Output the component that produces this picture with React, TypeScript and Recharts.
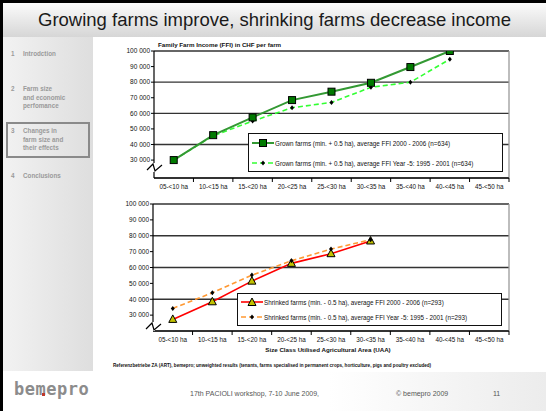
import React from "react";
import {
  LineChart,
  Line,
  XAxis,
  YAxis,
  CartesianGrid,
  Legend,
} from "recharts";

const sizeClasses = [
  "05-<10 ha",
  "10-<15 ha",
  "15-<20 ha",
  "20-<25 ha",
  "25-<30 ha",
  "30-<35 ha",
  "35-<40 ha",
  "40-<45 ha",
  "45-<50 ha",
];

// Family Farm Income (CHF per farm)
const grownFfi = [30000, 46000, 57400, 68500, 73900, 79600, 89700, 100000, null];
const grownFfiYear5 = [30000, 45600, 55000, 63600, 67000, 76700, 80000, 94700, null];
const shrinkedFfi = [27300, 38400, 51400, 62600, 68700, 76700, null, null, null];
const shrinkedFfiYear5 = [34200, 44100, 55200, 64200, 71600, 77500, null, null, null];

const yTicks = [30000, 40000, 50000, 60000, 70000, 80000, 90000, 100000];

const sidebarItems = [
  { num: "1", lines: ["Introdction"], top: 50 },
  { num: "2", lines: ["Farm size", "and economic", "perfomance"], top: 85 },
  { num: "3", lines: ["Changes in", "farm size and", "their effects"], top: 127 },
  { num: "4", lines: ["Conclusions"], top: 172 },
];

const topData = sizeClasses.map((c, i) => ({
  size: c,
  grown: grownFfi[i],
  grown5: grownFfiYear5[i],
}));

const bottomData = sizeClasses.map((c, i) => ({
  size: c,
  shrinked: shrinkedFfi[i],
  shrinked5: shrinkedFfiYear5[i],
}));

const FONT = "'Liberation Sans', Arial, sans-serif";
const CHART_W = 420;
const CHART_H = 160;

const fmtThousand = (v: number) => `${Math.round(v / 1000)} 000`;

function SquareDot(props: any) {
  const { cx, cy } = props;
  if (cx == null || cy == null || props.value == null) return null;
  return <rect x={cx - 3.5} y={cy - 3.5} width={7} height={7} fill="#007a00" stroke="#000" strokeWidth={1} />;
}

function SmallDot(props: any) {
  const { cx, cy } = props;
  if (cx == null || cy == null || props.value == null) return null;
  return <path d={`M${cx} ${cy - 2.5} L${cx + 2} ${cy} L${cx} ${cy + 2.5} L${cx - 2} ${cy} Z`} fill="#000" />;
}

function TriangleDot(props: any) {
  const { cx, cy } = props;
  if (cx == null || cy == null || props.value == null) return null;
  return (
    <path
      d={`M${cx} ${cy - 4.5} L${cx + 4} ${cy + 3} L${cx - 4} ${cy + 3} Z`}
      fill="#c2c200"
      stroke="#000"
      strokeWidth={1}
    />
  );
}

function SizeTick(props: any) {
  const { x, y, payload, band } = props;
  return (
    <g>
      <line x1={x + band / 2} y1={y} x2={x + band / 2} y2={y + 4} stroke="#000" strokeWidth={1} />
      <text x={x} y={y + 11} textAnchor="middle" fontSize={6.3} fill="#111" fontFamily={FONT}>
        {payload.value}
      </text>
    </g>
  );
}

function LegendBox({ rows, width, height, rowTops, sampleW }: any) {
  return (
    <div
      style={{
        width,
        height,
        boxSizing: "border-box",
        border: "1.5px solid #111",
        background: "#fff",
        position: "relative",
        fontFamily: FONT,
      }}
    >
      {rows.map((r: any, i: number) => (
        <div
          key={i}
          style={{
            position: "absolute",
            left: 3,
            top: rowTops[i] - 4,
            height: 8,
            display: "flex",
            alignItems: "center",
            whiteSpace: "nowrap",
          }}
        >
          <svg width={sampleW} height={8} style={{ display: "block" }}>
            <line
              x1={0}
              y1={4}
              x2={sampleW}
              y2={4}
              stroke={r.color}
              strokeWidth={r.width}
              strokeDasharray={r.dash}
            />
            {r.marker === "square" && <SquareDot cx={sampleW / 2} cy={4} value={1} />}
            {r.marker === "dot" && <SmallDot cx={sampleW / 2} cy={4} value={1} />}
            {r.marker === "triangle" && <TriangleDot cx={sampleW / 2} cy={4.5} value={1} />}
          </svg>
          <span style={{ fontSize: 6.3, color: "#111", marginLeft: 1 }}>{r.label}</span>
        </div>
      ))}
    </div>
  );
}

function AxisBreak({ left, top }: { left: number; top: number }) {
  return (
    <svg width={18} height={14} style={{ position: "absolute", left, top }}>
      <rect x={6} y={2} width={4} height={9} fill="#fff" />
      <polyline points="1,9 7,3 9,10 16,4" fill="none" stroke="#000" strokeWidth={1.2} />
    </svg>
  );
}

export default function App() {
  const topBand = (CHART_W - 54 - 11) / sizeClasses.length;
  const bottomBand = (CHART_W - 53 - 11) / sizeClasses.length;

  return (
    <div
      style={{
        position: "absolute",
        left: 0,
        top: 0,
        width: 546,
        height: 411,
        background: "#fff",
        overflow: "hidden",
        fontFamily: FONT,
      }}
    >
      {/* frame */}
      <div style={{ position: "absolute", left: 0, top: 0, width: 3, height: 411, background: "#000" }} />
      <div style={{ position: "absolute", left: 0, top: 0, width: 546, height: 3, background: "#000" }} />

      {/* title bar */}
      <div
        style={{
          position: "absolute",
          left: 3,
          top: 3,
          width: 543,
          height: 34,
          background: "linear-gradient(#fbfbfb, #d6d6d6)",
          textAlign: "center",
          fontSize: 18.5,
          lineHeight: "33px",
          color: "#1a1a1a",
        }}
      >
        Growing farms improve, shrinking farms decrease income
      </div>

      {/* sidebar */}
      <div
        style={{
          position: "absolute",
          left: 3,
          top: 37,
          width: 90,
          height: 334,
          background: "linear-gradient(to right, #f2f2f2, #dedede)",
        }}
      />
      <div
        style={{
          position: "absolute",
          left: 6,
          top: 122,
          width: 84,
          height: 36,
          boxSizing: "border-box",
          border: "2px solid #8a8a8a",
        }}
      />
      {sidebarItems.map((it) => (
        <div key={it.num} style={{ position: "absolute", left: 11, top: it.top, fontSize: 6.3, fontWeight: 700, color: "#9a9a9a", lineHeight: "8.5px" }}>
          <span style={{ position: "absolute", left: 0, top: 0 }}>{it.num}</span>
          <div style={{ marginLeft: 12, whiteSpace: "nowrap" }}>
            {it.lines.map((l) => (
              <div key={l}>{l}</div>
            ))}
          </div>
        </div>
      ))}

      {/* top chart */}
      <div style={{ position: "absolute", left: 158, top: 41, fontSize: 6.2, fontWeight: 700, color: "#111", whiteSpace: "nowrap" }}>
        Family Farm Income (FFI) in CHF per farm
      </div>
      <div style={{ position: "absolute", left: 100, top: 40 }}>
        <LineChart width={CHART_W} height={CHART_H} data={topData} margin={{ top: 11, right: 11, bottom: 0, left: 0 }}>
          <CartesianGrid vertical={false} stroke="#333" strokeWidth={1.3} />
          <CartesianGrid horizontal={false} verticalPoints={[409]} stroke="#9a9a9a" strokeWidth={1.3} />
          <XAxis
            dataKey="size"
            height={22}
            padding={{ left: topBand / 2, right: topBand / 2 }}
            tickLine={false}
            tickSize={0}
            tickMargin={0}
            axisLine={{ stroke: "#000", strokeWidth: 1.2 }}
            interval={0}
            tick={<SizeTick band={topBand} />}
          />
          <YAxis
            width={54}
            domain={[18500, 100000]}
            ticks={yTicks}
            tickFormatter={fmtThousand}
            tickSize={3}
            tickMargin={1}
            tickLine={{ stroke: "#000" }}
            axisLine={{ stroke: "#000", strokeWidth: 1.2 }}
            tick={{ fontSize: 6.5, fill: "#111", fontFamily: FONT }}
            allowDataOverflow
          />
          <Legend
            verticalAlign="middle"
            align="center"
            wrapperStyle={{ position: "absolute", left: 148, top: 93, width: 255, height: 39 }}
            content={() => (
              <LegendBox
                width={255}
                height={39}
                rowTops={[9, 29]}
                sampleW={22}
                rows={[
                  { color: "#339933", width: 2, marker: "square", label: "Grown farms (min. + 0.5 ha),  average FFI 2000 - 2006 (n=634)" },
                  { color: "#33ff33", width: 1.6, dash: "5 3", marker: "dot", label: "Grown farms (min. + 0.5 ha),  average FFI Year -5: 1995 - 2001 (n=634)" },
                ]}
              />
            )}
          />
          <Line dataKey="grown5" stroke="#33ff33" strokeWidth={1.6} strokeDasharray="5 3" dot={<SmallDot />} isAnimationActive={false} />
          <Line dataKey="grown" stroke="#339933" strokeWidth={2} dot={<SquareDot />} isAnimationActive={false} />
        </LineChart>
      </div>
      <AxisBreak left={146} top={161} />

      {/* bottom chart */}
      <div style={{ position: "absolute", left: 100, top: 195 }}>
        <LineChart width={CHART_W} height={CHART_H} data={bottomData} margin={{ top: 9, right: 11, bottom: 0, left: 0 }}>
          <CartesianGrid vertical={false} stroke="#333" strokeWidth={1.3} />
          <CartesianGrid horizontal={false} verticalPoints={[409]} stroke="#9a9a9a" strokeWidth={1.3} />
          <XAxis
            dataKey="size"
            height={24}
            padding={{ left: bottomBand / 2, right: bottomBand / 2 }}
            tickLine={false}
            tickSize={0}
            tickMargin={0}
            axisLine={{ stroke: "#000", strokeWidth: 1.2 }}
            interval={0}
            tick={<SizeTick band={bottomBand} />}
          />
          <YAxis
            width={53}
            domain={[20000, 100000]}
            ticks={yTicks}
            tickFormatter={fmtThousand}
            tickSize={3}
            tickMargin={1}
            tickLine={{ stroke: "#000" }}
            axisLine={{ stroke: "#000", strokeWidth: 1.2 }}
            tick={{ fontSize: 6.5, fill: "#111", fontFamily: FONT }}
            allowDataOverflow
          />
          <Legend
            verticalAlign="middle"
            align="center"
            wrapperStyle={{ position: "absolute", left: 137, top: 98, width: 265, height: 33 }}
            content={() => (
              <LegendBox
                width={265}
                height={33}
                rowTops={[8, 23]}
                sampleW={22}
                rows={[
                  { color: "#ff0000", width: 1.6, marker: "triangle", label: "Shrinked farms (min. - 0.5 ha),  average FFI 2000 - 2006 (n=293)" },
                  { color: "#ff9933", width: 1.6, dash: "5 3", marker: "dot", label: "Shrinked farms (min. - 0.5 ha),  average FFI Year -5: 1995 - 2001 (n=293)" },
                ]}
              />
            )}
          />
          <Line dataKey="shrinked" stroke="#ff0000" strokeWidth={1.6} dot={<TriangleDot />} isAnimationActive={false} />
          <Line dataKey="shrinked5" stroke="#ff9933" strokeWidth={1.6} strokeDasharray="5 3" dot={<SmallDot />} isAnimationActive={false} />
        </LineChart>
      </div>
      <AxisBreak left={145} top={320} />
      <div style={{ position: "absolute", left: 0, width: 656, top: 346, textAlign: "center", fontSize: 6.2, fontWeight: 700, color: "#111" }}>
        Size Class Utilised Agricultural Area (UAA)
      </div>

      {/* source note */}
      <div style={{ position: "absolute", left: 113, top: 363, fontSize: 4.6, fontWeight: 700, color: "#111", whiteSpace: "nowrap" }}>
        Referenzbetriebe ZA (ART), bemepro;  unweighted results (tenants, farms specialised in permanent crops, horticulture, pigs and poultry excluded)
      </div>

      {/* footer */}
      <div style={{ position: "absolute", left: 3, top: 372, width: 543, height: 39, background: "linear-gradient(to right, #ffffff 60%, #ececec)" }} />
      <div style={{ position: "absolute", left: 14, top: 379, fontSize: 17, fontWeight: 700, color: "#8c8c8c", letterSpacing: 0.5, fontFamily: "'DejaVu Sans Mono', monospace" }}>
        bemepro
      </div>
      <div style={{ position: "absolute", left: 42, top: 393, width: 3, height: 3, background: "#c0392b" }} />
      <div style={{ position: "absolute", left: 190, top: 390, fontSize: 7, color: "#555", whiteSpace: "nowrap" }}>
        17th PACIOLI workshop, 7-10 June 2009,
      </div>
      <div style={{ position: "absolute", left: 396, top: 390, fontSize: 7, color: "#555", whiteSpace: "nowrap" }}>
        © bemepro 2009
      </div>
      <div style={{ position: "absolute", left: 493, top: 390, fontSize: 7, color: "#555" }}>11</div>
    </div>
  );
}
